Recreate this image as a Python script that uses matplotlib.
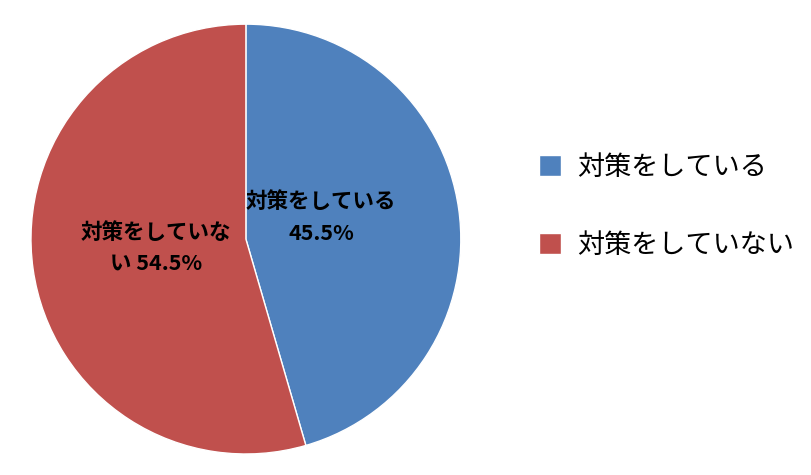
import matplotlib
matplotlib.use("Agg")
import matplotlib.pyplot as plt

plt.rcParams["font.family"] = ["Noto Sans CJK JP", "DejaVu Sans"]

labels = ["対策をしている", "対策をしていない"]
shares = [45.5, 54.5]
inner_labels = ["対策をしている\n45.5%", "対策をしていな\nい 54.5%"]
colors = ["#4F81BD", "#C0504D"]

fig = plt.figure(figsize=(8.11, 4.75), dpi=100)
ax = fig.add_axes([0.0382, 0.0442, 0.530, 0.905])

wedges, _ = ax.pie(shares, colors=colors, startangle=90, counterclock=False,
                   radius=1.0, wedgeprops=dict(edgecolor="white", linewidth=1.0))
ax.set_aspect("equal")
ax.set_xlim(-1, 1); ax.set_ylim(-1, 1)

label_pos = [(0.35, 0.10), (-0.42, -0.04)]
for (x, y), t in zip(label_pos, inner_labels):
    ax.text(x, y, t, ha="center", va="center", fontsize=15.5, fontweight="bold",
            color="black", linespacing=1.6)

fig.legend(wedges, labels, loc="upper left", bbox_to_anchor=(0.635, 0.728),
           frameon=False, fontsize=19.5, handlelength=0.8, handleheight=0.8,
           handletextpad=0.6, labelspacing=1.9)

fig.savefig("out.png", dpi=100)
